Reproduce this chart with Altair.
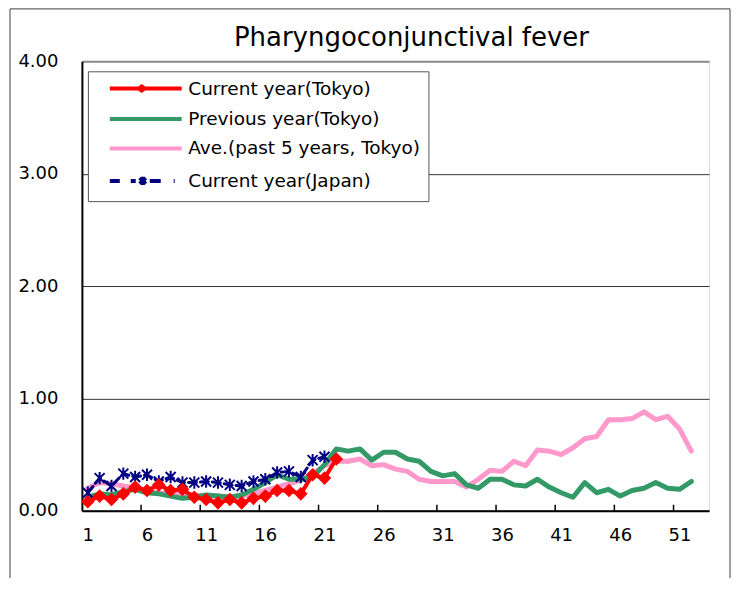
import altair as alt
import pandas as pd

# ---------------- data ----------------
series_names = ["Current year(Tokyo)", "Previous year(Tokyo)",
                "Ave.(past 5 years, Tokyo)", "Current year(Japan)"]
series_colors = ["#FF0000", "#339966", "#FF99CC", "#000080"]

cur_tokyo = [0.08, 0.13, 0.10, 0.15, 0.21, 0.18, 0.23, 0.18, 0.19, 0.12,
             0.10, 0.07, 0.10, 0.07, 0.11, 0.13, 0.18, 0.18, 0.15, 0.32,
             0.29, 0.46]
prev_tokyo = [0.12, 0.15, 0.14, 0.17, 0.19, 0.16, 0.15, 0.13, 0.11, 0.12,
              0.14, 0.13, 0.12, 0.14, 0.19, 0.25, 0.32, 0.28, 0.28, 0.30,
              0.41, 0.55, 0.53, 0.55, 0.45, 0.52, 0.52, 0.46, 0.44, 0.35,
              0.31, 0.33, 0.23, 0.20, 0.28, 0.28, 0.23, 0.22, 0.28, 0.21,
              0.16, 0.12, 0.25, 0.16, 0.19, 0.13, 0.18, 0.20, 0.25, 0.20,
              0.19, 0.26]
ave_tokyo = [0.20, 0.25, 0.24, 0.22, 0.20, 0.17, 0.16, 0.15, 0.15, 0.14,
             0.13, 0.13, 0.12, 0.13, 0.15, 0.18, 0.21, 0.24, 0.27, 0.33,
             0.40, 0.44, 0.44, 0.46, 0.40, 0.41, 0.37, 0.35, 0.28, 0.26,
             0.26, 0.26, 0.21, 0.28, 0.36, 0.35, 0.44, 0.40, 0.54, 0.53,
             0.50, 0.56, 0.64, 0.66, 0.81, 0.81, 0.82, 0.88, 0.81, 0.84,
             0.73, 0.53]
cur_japan = [0.16, 0.29, 0.22, 0.33, 0.30, 0.32, 0.26, 0.30, 0.25, 0.25,
             0.26, 0.25, 0.23, 0.22, 0.26, 0.28, 0.34, 0.35, 0.30, 0.45,
             0.48]

x_label_values = [1, 6, 11, 16, 21, 26, 31, 36, 41, 46, 51]
x_tick_positions = [5.5, 10.5, 15.5, 20.5, 25.5, 30.5, 35.5, 40.5, 45.5, 50.5]
y_tick_values = [0, 1, 2, 3, 4]
x_domain = [0.5, 53.5]
y_domain = [0, 4]


def to_frame(values, name):
    return pd.DataFrame({"week": list(range(1, len(values) + 1)),
                         "value": values, "series": name})


df = pd.concat([to_frame(cur_tokyo, series_names[0]),
                to_frame(prev_tokyo, series_names[1]),
                to_frame(ave_tokyo, series_names[2]),
                to_frame(cur_japan, series_names[3])], ignore_index=True)

# ---------------- style ----------------
W, H = 628, 450
FONT = "DejaVu Sans"

xscale = alt.Scale(domain=x_domain, nice=False, zero=False)
yscale = alt.Scale(domain=y_domain, nice=False, zero=False)

xaxis = alt.Axis(values=x_label_values, title=None, ticks=False, grid=False,
                 labelFont=FONT, labelFontSize=18, labelColor="black",
                 labelPadding=16, labelFlush=False, domainColor="black",
                 domainWidth=2)
yaxis = alt.Axis(values=y_tick_values, format=".2f", title=None, ticks=False,
                 grid=True,
                 gridColor={"condition": {"test": "datum.value >= 4", "value": "#8a8a8a"},
                            "value": "#333333"},
                 gridWidth={"condition": {"test": "datum.value >= 4", "value": 2},
                            "value": 1},
                 labelFont=FONT, labelFontSize=18, labelColor="black",
                 labelPadding=24, domainColor="black", domainWidth=2)

# legend symbols: custom paths (unit = 6px with symbolSize 144)
line_path = "M0.78,0H12.78"
red_path = "M0.78,0H12.78M5.61,0L6.11,-0.35L6.61,0L6.11,0.35Z"
blue_path = ("M0.78,0H2.45M4.28,0H5.11M7.45,0H9.28M11.45,0H11.61"
             "M5.78,-0.5L6.78,0.5M5.78,0.5L6.78,-0.5M6.28,-0.7V0.7")
legend_shapes = [red_path, line_path, line_path, blue_path]

legend = alt.Legend(
    title=None, orient="none", legendX=6, legendY=10, padding=8,
    fillColor="white", strokeColor="#555555",
    symbolSize=144, symbolStrokeWidth=4, symbolOpacity=1,
    symbolFillColor="transparent",
    labelFont=FONT, labelFontSize=18.5, labelColor="black", labelLimit=400,
    labelOffset=74, rowPadding=10.5,
)

X = alt.X("week:Q", scale=xscale, axis=xaxis)
Y = alt.Y("value:Q", scale=yscale, axis=yaxis)

base = alt.Chart(df)


def line_layer(i, width, dash=None):
    kw = dict(strokeWidth=width, strokeJoin="round", strokeCap="round",
              color=series_colors[i])
    if dash is not None:
        kw["strokeDash"] = dash
    return (base.transform_filter(alt.datum.series == series_names[i])
            .mark_line(**kw).encode(x=X, y=Y))


asterisk = "M-1,-1L1,1M-1,1L1,-1M0,-1.25L0,1.25"

pink = line_layer(2, 5)
green = line_layer(1, 5)
blue = line_layer(3, 3, [8, 4])
red = line_layer(0, 4)

blue_pts = (base.transform_filter(alt.datum.series == series_names[3])
            .mark_point(shape=asterisk, filled=False, size=100, strokeWidth=2,
                        color=series_colors[3], opacity=1)
            .encode(x=X, y=Y))
red_pts = (base.transform_filter(alt.datum.series == series_names[0])
           .mark_point(shape="diamond", filled=True, size=185,
                       color=series_colors[0], opacity=1)
           .encode(x=X, y=Y))

# invisible layer that only carries the legend
legend_df = pd.DataFrame({"series": series_names, "week": [1] * 4, "value": [0] * 4})
legend_layer = (alt.Chart(legend_df)
                .mark_point(opacity=0, filled=False, size=144)
                .encode(x=X, y=Y,
                        color=alt.Color("series:N",
                                        scale=alt.Scale(domain=series_names,
                                                        range=series_colors),
                                        legend=legend),
                        shape=alt.Shape("series:N",
                                        scale=alt.Scale(domain=series_names,
                                                        range=legend_shapes),
                                        legend=legend)))

ticks = (alt.Chart(pd.DataFrame({"week": x_tick_positions}))
         .mark_rule(color="black", strokeWidth=1.5)
         .encode(x=X, y=alt.value(H - 6), y2=alt.value(H)))

outer = (alt.Chart(pd.DataFrame({"k": [0]}))
         .mark_rect(fillOpacity=0, stroke="#404040", strokeWidth=1)
         .encode(x=alt.value(-72), x2=alt.value(649),
                 y=alt.value(-52.5), y2=alt.value(H + 200)))

chart = (alt.layer(outer, pink, green, blue, blue_pts, red, red_pts, ticks,
                   legend_layer)
         .properties(width=W, height=H,
                     padding={"left": 74, "top": 53, "right": 24, "bottom": 67},
                     autosize=alt.AutoSizeParams(type="none"),
                     title=alt.TitleParams("Pharyngoconjunctival fever",
                                           font=FONT, fontSize=26,
                                           fontWeight="normal", color="black",
                                           anchor="middle", dx=16, dy=64,
                                           frame="group",
                                           baseline="alphabetic", offset=0))
         .configure_view(stroke="#8a8a8a", strokeWidth=2)
         .configure(background="white"))

chart.save("out.html", embed_options={"renderer": "svg", "actions": False})
